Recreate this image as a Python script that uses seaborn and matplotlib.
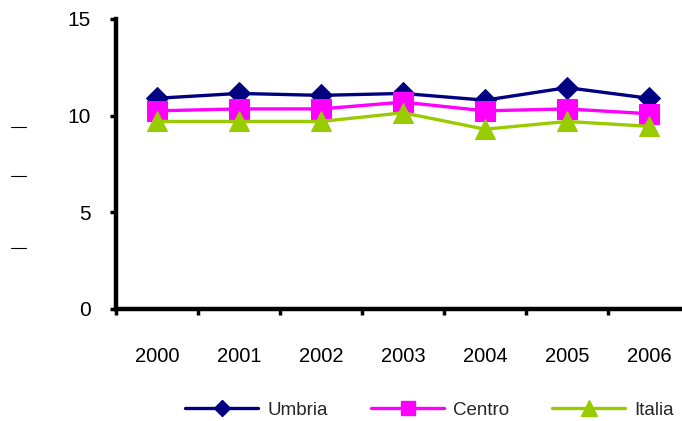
import matplotlib
matplotlib.use("Agg")
import matplotlib.pyplot as plt
from matplotlib.lines import Line2D
from matplotlib.ticker import FixedLocator
import seaborn as sns
import pandas as pd

years = ["2000", "2001", "2002", "2003", "2004", "2005", "2006"]
umbria = [10.9, 11.15, 11.05, 11.15, 10.8, 11.45, 10.9]
centro = [10.25, 10.35, 10.35, 10.7, 10.25, 10.35, 10.1]
italia = [9.7, 9.7, 9.7, 10.15, 9.3, 9.7, 9.45]

series = [
    ("Umbria", umbria, "#000080", "D", 11),
    ("Centro", centro, "#FF00FF", "s", 14),
    ("Italia", italia, "#99CC00", "^", 15),
]

sns.set_theme(style="white")
plt.rcParams["font.family"] = ["Liberation Sans", "DejaVu Sans"]

fig = plt.figure(figsize=(6.82, 4.21), dpi=100)
ax = fig.add_axes([116 / 682, 1 - 309 / 421, 574 / 682, 290 / 421])

pos = list(range(len(years)))
for name, vals, color, marker, ms in series:
    df = pd.DataFrame({"pos": pos, "value": vals})
    sns.lineplot(data=df, x="pos", y="value", ax=ax, color=color, marker=marker,
                 markersize=ms, markeredgecolor=color, linewidth=2.4, label=name,
                 legend=False)

ax.set_xlim(-0.5, len(years) - 0.5)
ax.set_ylim(0, 15)
ax.set_yticks([0, 5, 10, 15])
ax.set_xticks(pos)
ax.set_xticklabels(years)
ax.xaxis.set_minor_locator(FixedLocator([p + 0.5 for p in pos[:-1]] + [-0.5]))
ax.set_xlabel("")
ax.set_ylabel("")

for side in ("top", "right"):
    ax.spines[side].set_visible(False)
for side in ("left", "bottom"):
    ax.spines[side].set_color("black")
    ax.spines[side].set_linewidth(3.2)

ax.tick_params(axis="y", which="major", direction="out", length=4, width=2.5,
               color="black", left=True, pad=14, labelsize=15, labelcolor="black")
ax.tick_params(axis="x", which="major", length=0, pad=27, labelsize=14.5,
               labelcolor="black")
ax.tick_params(axis="x", which="minor", direction="out", length=4, width=2.5,
               color="black", bottom=True)

handles = [Line2D([], [], color=c, marker=m, markersize=ms * 0.75,
                  markeredgecolor=c, linewidth=2.4, label=n)
           for n, _, c, m, ms in series]
fig.legend(handles=handles, loc="center", bbox_to_anchor=(0.63, 1 - 410 / 421),
           ncol=3, frameon=False, fontsize=13.5, handlelength=3.9,
           handletextpad=0.48, columnspacing=2.3)

# short marks along the left margin
for y in (127, 176, 248):
    fig.add_artist(Line2D([11 / 682, 26 / 682], [1 - y / 421, 1 - y / 421],
                          color="black", linewidth=0.8))

fig.savefig("out.png", dpi=100)
